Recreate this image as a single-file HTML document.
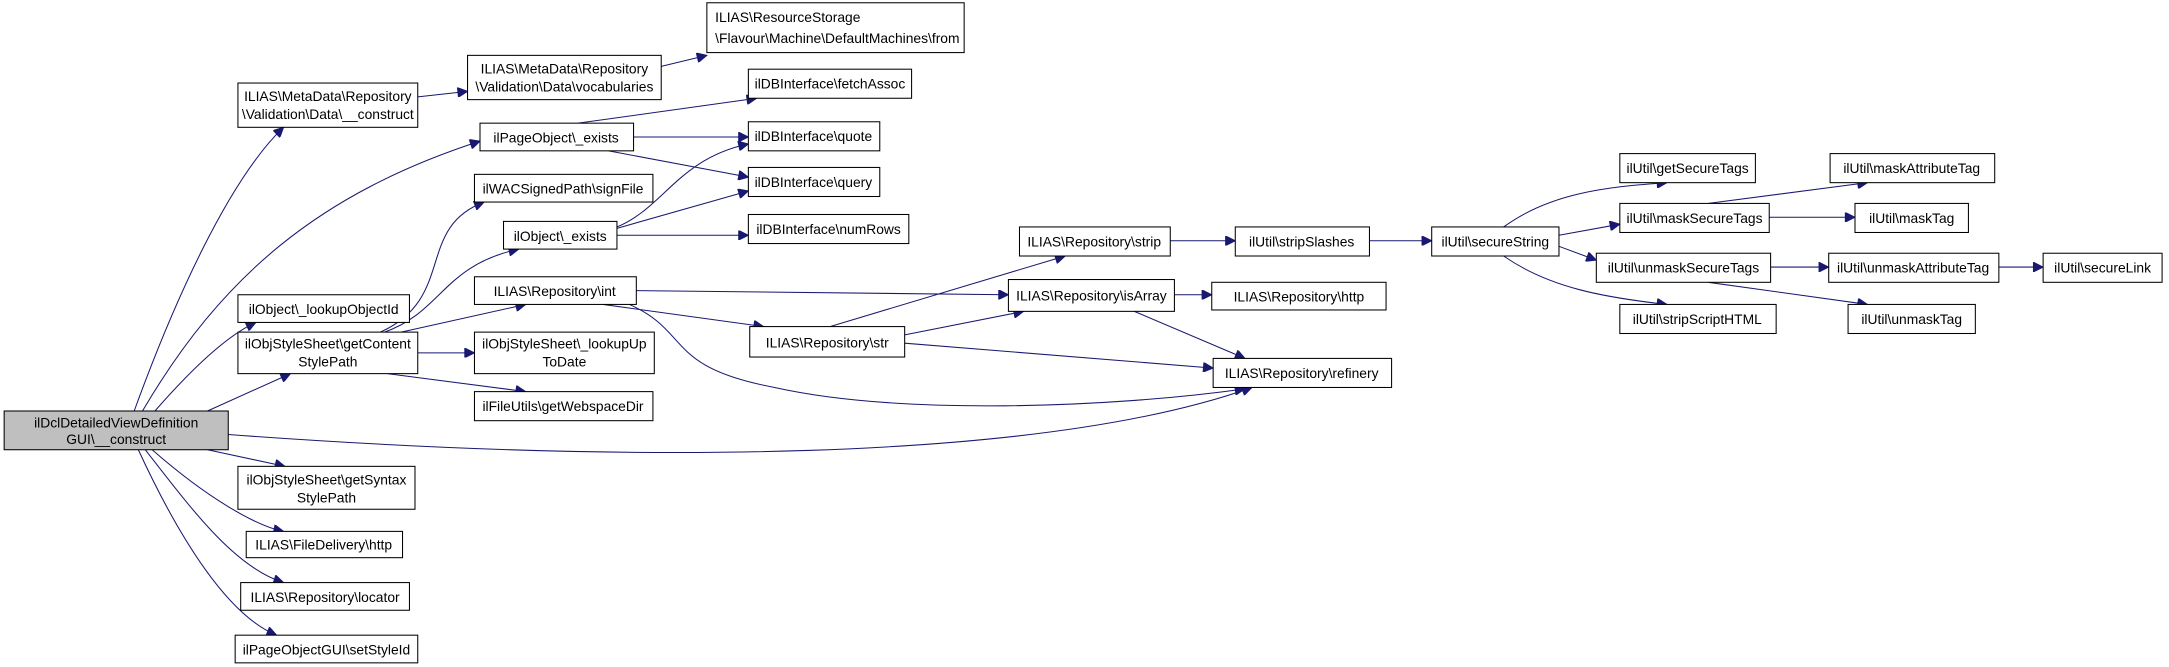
<!DOCTYPE html>
<html><head><meta charset="utf-8"><style>
html,body{margin:0;padding:0;background:#fff;}
svg{display:block;}
text{font-family:"Liberation Sans",Helvetica,sans-serif;font-size:10px;fill:#000;}
.n{fill:#fff;stroke:#000;stroke-width:0.75;}
.e{fill:none;stroke:#191970;stroke-width:0.75;}
</style></head><body>
<svg width="2169" height="667" viewBox="0 0 1568 482" preserveAspectRatio="none" xmlns="http://www.w3.org/2000/svg">
<defs><marker id="a" viewBox="0 0 10 10" refX="10" refY="5" markerWidth="9" markerHeight="7" markerUnits="userSpaceOnUse" orient="auto"><path d="M0,0L10,5L0,10z" fill="#191970" stroke="#191970"/></marker></defs>
<g marker-end="url(#a)" class="e">
<path class="e" d="M97,297C125,220 165,130 205,92"/>
<path class="e" d="M103,297C160,200 230,140 347,102"/>
<path class="e" d="M112,297C140,265 165,242 185,233"/>
<path class="e" d="M150,297L210,270"/>
<path class="e" d="M165,314C450,335 750,335 905,280"/>
<path class="e" d="M150,325L206,337"/>
<path class="e" d="M110,325C150,360 185,380 205,384"/>
<path class="e" d="M105,325C140,370 170,410 205,421"/>
<path class="e" d="M100,325C130,390 165,445 200,459"/>
<path class="e" d="M302,70L338,66"/>
<path class="e" d="M478,48L511,40"/>
<path class="e" d="M418,89L547,71"/>
<path class="e" d="M458,99L541,99"/>
<path class="e" d="M440,109L541,128"/>
<path class="e" d="M446,164C480,150 490,115 541,104"/>
<path class="e" d="M446,165L541,138"/>
<path class="e" d="M446,170L541,170"/>
<path class="e" d="M275,240C330,215 300,165 350,146"/>
<path class="e" d="M278,240C320,225 320,192 375,180"/>
<path class="e" d="M290,240L380,220"/>
<path class="e" d="M302,255L343,255"/>
<path class="e" d="M280,270L380,283"/>
<path class="e" d="M460,210L729,213"/>
<path class="e" d="M436,220L552,236"/>
<path class="e" d="M455,220C500,240 480,265 560,280C650,300 800,295 900,281"/>
<path class="e" d="M600,236L770,185"/>
<path class="e" d="M654,242L740,225"/>
<path class="e" d="M654,248L877,266"/>
<path class="e" d="M846,174L893,174"/>
<path class="e" d="M849,213L876,213"/>
<path class="e" d="M820,225L900,259"/>
<path class="e" d="M990,174L1035,174"/>
<path class="e" d="M1087,164C1120,140 1160,135 1205,132"/>
<path class="e" d="M1127,170L1171,162"/>
<path class="e" d="M1127,178L1154,188"/>
<path class="e" d="M1087,185C1120,208 1160,215 1205,220"/>
<path class="e" d="M1235,147L1350,132"/>
<path class="e" d="M1279,157L1341,157"/>
<path class="e" d="M1280,193L1322,193"/>
<path class="e" d="M1235,204L1350,220"/>
<path class="e" d="M1445,193L1477,193"/>
</g>
<rect x="3" y="297" width="162" height="28" fill="#bfbfbf" stroke="#000" stroke-width="0.75"/>
<text x="84" y="309" text-anchor="middle">ilDclDetailedViewDefinition</text><text x="84" y="321" text-anchor="middle">GUI\__construct</text>
<rect class="n" x="172" y="60" width="130" height="32"/><text x="237" y="73" text-anchor="middle">ILIAS\MetaData\Repository</text><text x="237" y="86" text-anchor="middle">\Validation\Data\__construct</text>
<rect class="n" x="338" y="40" width="140" height="32"/><text x="408" y="53" text-anchor="middle">ILIAS\MetaData\Repository</text><text x="408" y="66" text-anchor="middle">\Validation\Data\vocabularies</text>
<rect class="n" x="511" y="2" width="186" height="36"/><text x="517" y="16">ILIAS\ResourceStorage</text><text x="517" y="31">\Flavour\Machine\DefaultMachines\from</text>
<rect class="n" x="347" y="89" width="111" height="20"/><text x="402" y="103" text-anchor="middle">ilPageObject\_exists</text>
<rect class="n" x="343" y="126" width="129" height="20"/><text x="407" y="140" text-anchor="middle">ilWACSignedPath\signFile</text>
<rect class="n" x="364" y="160" width="82" height="20"/><text x="405" y="174" text-anchor="middle">ilObject\_exists</text>
<rect class="n" x="172" y="213" width="124" height="20"/><text x="234" y="227" text-anchor="middle">ilObject\_lookupObjectId</text>
<rect class="n" x="343" y="200" width="117" height="20"/><text x="401" y="214" text-anchor="middle">ILIAS\Repository\int</text>
<rect class="n" x="172" y="240" width="130" height="30"/><text x="237" y="252" text-anchor="middle">ilObjStyleSheet\getContent</text><text x="237" y="265" text-anchor="middle">StylePath</text>
<rect class="n" x="343" y="240" width="130" height="30"/><text x="408" y="252" text-anchor="middle">ilObjStyleSheet\_lookupUp</text><text x="408" y="265" text-anchor="middle">ToDate</text>
<rect class="n" x="343" y="283" width="129" height="21"/><text x="407" y="297" text-anchor="middle">ilFileUtils\getWebspaceDir</text>
<rect class="n" x="172" y="337" width="128" height="31"/><text x="236" y="350" text-anchor="middle">ilObjStyleSheet\getSyntax</text><text x="236" y="363" text-anchor="middle">StylePath</text>
<rect class="n" x="178" y="384" width="113" height="19"/><text x="234" y="397" text-anchor="middle">ILIAS\FileDelivery\http</text>
<rect class="n" x="174" y="421" width="122" height="20"/><text x="235" y="435" text-anchor="middle">ILIAS\Repository\locator</text>
<rect class="n" x="170" y="459" width="132" height="20"/><text x="236" y="473" text-anchor="middle">ilPageObjectGUI\setStyleId</text>
<rect class="n" x="541" y="50" width="118" height="21"/><text x="600" y="64" text-anchor="middle">ilDBInterface\fetchAssoc</text>
<rect class="n" x="541" y="88" width="95" height="21"/><text x="588" y="102" text-anchor="middle">ilDBInterface\quote</text>
<rect class="n" x="541" y="121" width="95" height="21"/><text x="588" y="135" text-anchor="middle">ilDBInterface\query</text>
<rect class="n" x="541" y="155" width="116" height="21"/><text x="599" y="169" text-anchor="middle">ilDBInterface\numRows</text>
<rect class="n" x="737" y="164" width="109" height="21"/><text x="791" y="178" text-anchor="middle">ILIAS\Repository\strip</text>
<rect class="n" x="729" y="202" width="120" height="23"/><text x="789" y="217" text-anchor="middle">ILIAS\Repository\isArray</text>
<rect class="n" x="542" y="236" width="112" height="22"/><text x="598" y="251" text-anchor="middle">ILIAS\Repository\str</text>
<rect class="n" x="893" y="164" width="97" height="21"/><text x="941" y="178" text-anchor="middle">ilUtil\stripSlashes</text>
<rect class="n" x="876" y="204" width="126" height="20"/><text x="939" y="218" text-anchor="middle">ILIAS\Repository\http</text>
<rect class="n" x="877" y="259" width="129" height="21"/><text x="941" y="273" text-anchor="middle">ILIAS\Repository\refinery</text>
<rect class="n" x="1035" y="164" width="92" height="21"/><text x="1081" y="178" text-anchor="middle">ilUtil\secureString</text>
<rect class="n" x="1171" y="111" width="98" height="21"/><text x="1220" y="125" text-anchor="middle">ilUtil\getSecureTags</text>
<rect class="n" x="1171" y="147" width="108" height="21"/><text x="1225" y="161" text-anchor="middle">ilUtil\maskSecureTags</text>
<rect class="n" x="1154" y="183" width="126" height="21"/><text x="1217" y="197" text-anchor="middle">ilUtil\unmaskSecureTags</text>
<rect class="n" x="1171" y="220" width="113" height="21"/><text x="1227" y="234" text-anchor="middle">ilUtil\stripScriptHTML</text>
<rect class="n" x="1323" y="111" width="119" height="21"/><text x="1382" y="125" text-anchor="middle">ilUtil\maskAttributeTag</text>
<rect class="n" x="1341" y="147" width="82" height="21"/><text x="1382" y="161" text-anchor="middle">ilUtil\maskTag</text>
<rect class="n" x="1322" y="183" width="123" height="21"/><text x="1383" y="197" text-anchor="middle">ilUtil\unmaskAttributeTag</text>
<rect class="n" x="1336" y="220" width="92" height="21"/><text x="1382" y="234" text-anchor="middle">ilUtil\unmaskTag</text>
<rect class="n" x="1477" y="183" width="86" height="21"/><text x="1520" y="197" text-anchor="middle">ilUtil\secureLink</text>
</svg>
</body></html>
